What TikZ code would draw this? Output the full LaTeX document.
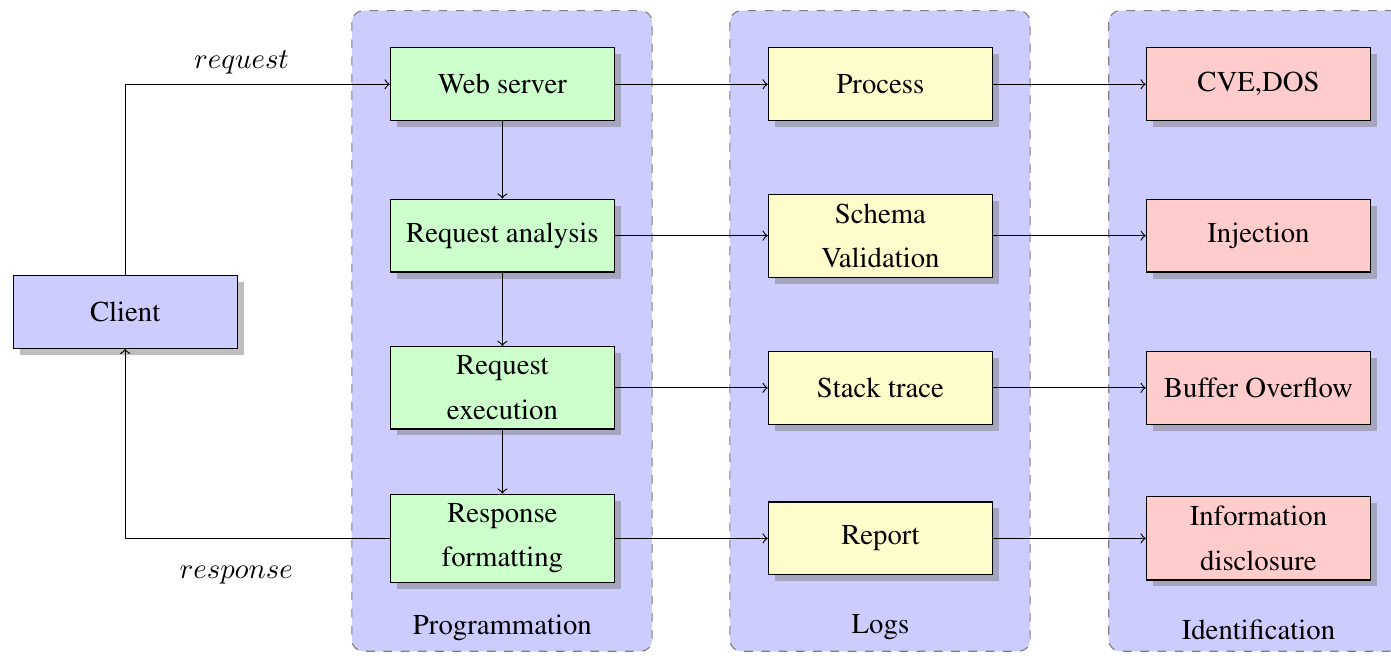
\documentclass[tikz,border=0pt]{standalone}
\usepackage[T1]{fontenc}
\usepackage{times}
\usetikzlibrary{shadows}

\begin{document}
\begin{tikzpicture}[
  caja/.style={draw, minimum width=2.74cm, minimum height=0.89cm, align=center,
    font=\linespread{1.28}\selectfont, drop shadow},
  panel/.style={draw=gray, dashed, fill=blue!20, rounded corners}
]
  \useasboundingbox (0,0) rectangle (17.0,-8.01);
  % Paneles de fondo
  \draw[panel] (4.30,-0.13) rectangle (7.97,-7.96);
  \draw[panel] (8.92,-0.13) rectangle (12.59,-7.96);
  \draw[panel] (13.55,-0.13) rectangle (17.22,-7.96);
  \node (prog) at (6.14,-7.67) {Programmation};
  \node (logs) at (10.76,-7.67) {Logs};
  \node (ident) at (15.38,-7.70) {Identification};
  % Cliente
  \node[caja, fill=blue!20] (client) at (1.53,-3.81) {Client};
  % Programacion
  \node[caja, fill=green!20] (web) at (6.14,-1.03) {Web server};
  \node[caja, fill=green!20] (ana) at (6.14,-2.88) {Request analysis};
  \node[caja, fill=green!20] (exe) at (6.14,-4.74) {Request\\execution};
  \node[caja, fill=green!20] (fmt) at (6.14,-6.58) {Response\\formatting};
  % Logs
  \node[caja, fill=yellow!20] (proc) at (10.76,-1.03) {Process};
  \node[caja, fill=yellow!20] (schema) at (10.76,-2.88) {Schema\\Validation};
  \node[caja, fill=yellow!20] (stack) at (10.76,-4.74) {Stack trace};
  \node[caja, fill=yellow!20] (report) at (10.76,-6.58) {Report};
  % Identificacion
  \node[caja, fill=red!20] (cve) at (15.38,-1.03) {CVE,DOS};
  \node[caja, fill=red!20] (inj) at (15.38,-2.88) {Injection};
  \node[caja, fill=red!20] (buf) at (15.38,-4.74) {Buffer Overflow};
  \node[caja, fill=red!20] (info) at (15.38,-6.58) {Information\\disclosure};
  % Peticion y respuesta
  \draw[->] (client) |- node[pos=0.72, above=0pt] {$request$} (web);
  \draw[->] (fmt) -| node[pos=0.29, below=6pt] {$response$} (client);
  % Flujo interno
  \draw[->] (web) -- (ana);
  \draw[->] (ana) -- (exe);
  \draw[->] (exe) -- (fmt);
  % Hacia logs
  \draw[->] (web) -- (proc);
  \draw[->] (ana) -- (schema);
  \draw[->] (exe) -- (stack);
  \draw[->] (fmt) -- (report);
  % Hacia identificacion
  \draw[->] (proc) -- (cve);
  \draw[->] (schema) -- (inj);
  \draw[->] (stack) -- (buf);
  \draw[->] (report) -- (info);
\end{tikzpicture}
\end{document}
